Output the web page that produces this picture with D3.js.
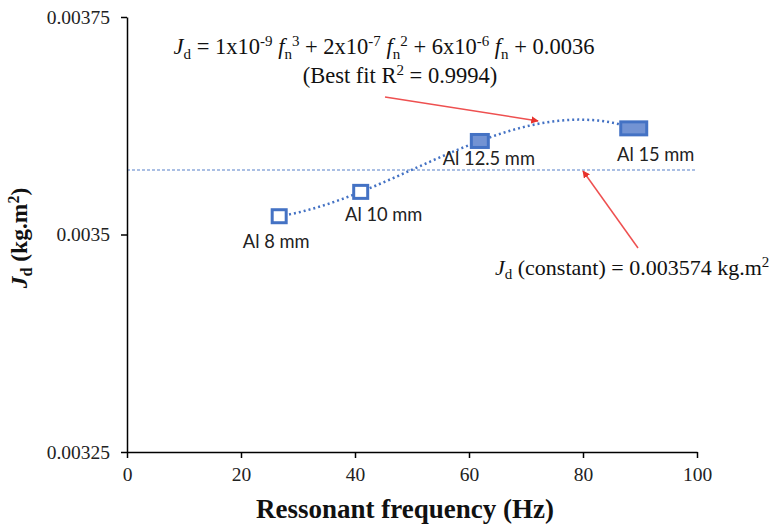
<!DOCTYPE html>
<html><head><meta charset="utf-8">
<script src="https://cdn.jsdelivr.net/npm/d3@7"></script>
<style>body{margin:0;background:#fff}svg{display:block}</style>
</head><body>
<script>
// Data
const labels = ["Al 8 mm", "Al 10 mm", "Al 12.5 mm", "Al 15 mm"];
const freq = [26.7, 41.0, 61.9, 88.9];
const jd = [0.003521, 0.003549, 0.0036075, 0.003622];
const jConst = 0.003574;
const xTicks = [0, 20, 40, 60, 80, 100];
const yTicks = [0.00325, 0.0035, 0.00375];
const yTickLabels = ["0.00325", "0.0035", "0.00375"];

const W = 777, H = 528;
const svg = d3.select("body").append("svg").attr("width", W).attr("height", H);
const x = d3.scaleLinear().domain([0, 100]).range([127, 697]);
const y = d3.scaleLinear().domain([0.00325, 0.00375]).range([452, 17]);
const serif = "'Liberation Serif','Times New Roman',serif";
const sans = "Lato,'Open Sans',sans-serif";

// Cubic least-squares fit (trendline)
function polyfit(xs, ys, deg) {
  const mx = d3.mean(xs);
  const n = deg + 1;
  const A = Array.from({length: n}, () => new Array(n + 1).fill(0));
  xs.forEach((xv, k) => {
    const t = (xv - mx) / 30;
    for (let i = 0; i < n; i++) {
      for (let j = 0; j < n; j++) A[i][j] += Math.pow(t, i + j);
      A[i][n] += Math.pow(t, i) * ys[k];
    }
  });
  for (let c = 0; c < n; c++) {
    let p = c;
    for (let r = c + 1; r < n; r++) if (Math.abs(A[r][c]) > Math.abs(A[p][c])) p = r;
    [A[c], A[p]] = [A[p], A[c]];
    for (let r = 0; r < n; r++) if (r !== c) {
      const f = A[r][c] / A[c][c];
      for (let j = c; j <= n; j++) A[r][j] -= f * A[c][j];
    }
  }
  const coef = A.map((row, i) => row[n] / row[i]);
  return xv => { const t = (xv - mx) / 30; return coef.reduce((s, c, i) => s + c * Math.pow(t, i), 0); };
}
const fit = polyfit(freq, jd, 3);
const curve = d3.range(freq[0], freq[3] + 0.01, 0.5).map(f => [f, fit(f)]);

// constant line
svg.append("line").attr("x1", x(0)).attr("x2", x(100)).attr("y1", y(jConst)).attr("y2", y(jConst))
  .attr("stroke", "#8FAADC").attr("stroke-width", 1.5).attr("stroke-dasharray", "3,2");

// trend curve
svg.append("path").attr("d", d3.line().x(d => x(d[0])).y(d => y(d[1]))(curve))
  .attr("fill", "none").attr("stroke", "#4472C4").attr("stroke-width", 2.5)
  .attr("stroke-dasharray", "2,3");

// axes
const gx = svg.append("g").attr("transform", `translate(0,${y.range()[0]})`)
  .call(d3.axisBottom(x).tickValues(xTicks).tickSize(6).tickSizeOuter(0).tickPadding(9));
const gy = svg.append("g").attr("transform", `translate(${x.range()[0]},0)`)
  .call(d3.axisLeft(y).tickValues(yTicks).tickSize(6).tickSizeOuter(0).tickPadding(11)
    .tickFormat((d, i) => yTickLabels[i]));
[gx, gy].forEach(g => {
  g.attr("font-family", serif).attr("font-size", 19.5);
  g.select(".domain").attr("stroke", "#000").attr("stroke-width", 1.5);
  g.selectAll(".tick line").attr("stroke", "#000").attr("stroke-width", 1.5);
  g.selectAll(".tick text").attr("font-family", serif).attr("font-size", 19.5).attr("fill", "#222");
});

// markers
const mk = svg.append("g");
freq.forEach((f, i) => {
  const w = i === 3 ? 26 : (i === 2 ? 17 : 14);
  mk.append("rect").attr("x", x(f) - w / 2).attr("y", y(jd[i]) - 6.5).attr("width", w).attr("height", 13)
    .attr("fill", i >= 2 ? "#7393D3" : "#fff").attr("stroke", "#4472C4").attr("stroke-width", 3);
});

// point labels
const lblOff = [[-3, 32], [23, 29], [9, 24], [22, 33]];
labels.forEach((l, i) => {
  svg.append("text").attr("x", x(freq[i]) + lblOff[i][0]).attr("y", y(jd[i]) + lblOff[i][1])
    .attr("text-anchor", "middle").attr("font-family", sans).attr("font-size", 18.3).attr("fill", "#222").text(l);
});

// arrows
const defs = svg.append("defs");
defs.append("marker").attr("id", "ah").attr("viewBox", "0 0 10 10").attr("refX", 9).attr("refY", 5)
  .attr("markerWidth", 5).attr("markerHeight", 5).attr("orient", "auto")
  .append("path").attr("d", "M0,0L10,5L0,10Z").attr("fill", "#E8322C");
svg.append("line").attr("x1", 385).attr("y1", 97).attr("x2", 538).attr("y2", 121)
  .attr("stroke", "#EE5050").attr("stroke-width", 1.5).attr("marker-end", "url(#ah)");
svg.append("line").attr("x1", 638).attr("y1", 248).attr("x2", 583).attr("y2", 171)
  .attr("stroke", "#EE5050").attr("stroke-width", 1.5).attr("marker-end", "url(#ah)");

// rich text helper (sub/superscripts via dy)
function rich(sel, parts, base, small) {
  let shift = 0;
  parts.forEach(p => {
    const target = p.sub ? base * 0.2 : (p.sup ? -base * 0.36 : 0);
    const s = sel.append("tspan").text(p.t).attr("dy", target - shift);
    shift = target;
    if (p.i) s.attr("font-style", "italic");
    if (p.sub || p.sup) s.attr("font-size", small);
  });
}
const eq = svg.append("text").attr("x", 384).attr("y", 54).attr("text-anchor", "middle")
  .attr("font-family", serif).attr("font-size", 22.5).attr("fill", "#111");
rich(eq, [{t: "J", i: 1}, {t: "d", sub: 1}, {t: "  = 1x10"}, {t: "-9", sup: 1}, {t: " "}, {t: "f", i: 1}, {t: "n", sub: 1}, {t: "3", sup: 1},
  {t: " + 2x10"}, {t: "-7", sup: 1}, {t: " "}, {t: "f", i: 1}, {t: "n", sub: 1}, {t: "2", sup: 1},
  {t: " + 6x10"}, {t: "-6", sup: 1}, {t: " "}, {t: "f", i: 1}, {t: "n", sub: 1}, {t: " + 0.0036"}], 22.5, 15);

const r2 = svg.append("text").attr("x", 400).attr("y", 83).attr("text-anchor", "middle")
  .attr("font-family", serif).attr("font-size", 22.5).attr("fill", "#111");
rich(r2, [{t: "(Best fit R"}, {t: "2", sup: 1}, {t: " = 0.9994)"}], 22.5, 15);

const ct = svg.append("text").attr("x", 495).attr("y", 275)
  .attr("font-family", serif).attr("font-size", 22).attr("fill", "#111");
rich(ct, [{t: "J", i: 1}, {t: "d", sub: 1}, {t: " (constant) = 0.003574 kg.m"}, {t: "2", sup: 1}], 22, 15);

// axis titles
svg.append("text").attr("x", 405).attr("y", 518).attr("text-anchor", "middle")
  .attr("font-family", serif).attr("font-size", 27).attr("font-weight", "bold").attr("fill", "#111")
  .text("Ressonant frequency (Hz)");
const yt = svg.append("text").attr("transform", "translate(27,238) rotate(-90)").attr("text-anchor", "middle")
  .attr("font-family", serif).attr("font-size", 23.5).attr("font-weight", "bold").attr("fill", "#111");
rich(yt, [{t: "J", i: 1}, {t: "d", sub: 1}, {t: " (kg.m"}, {t: "2", sup: 1}, {t: ")"}], 23.5, 16);
</script>
</body></html>
